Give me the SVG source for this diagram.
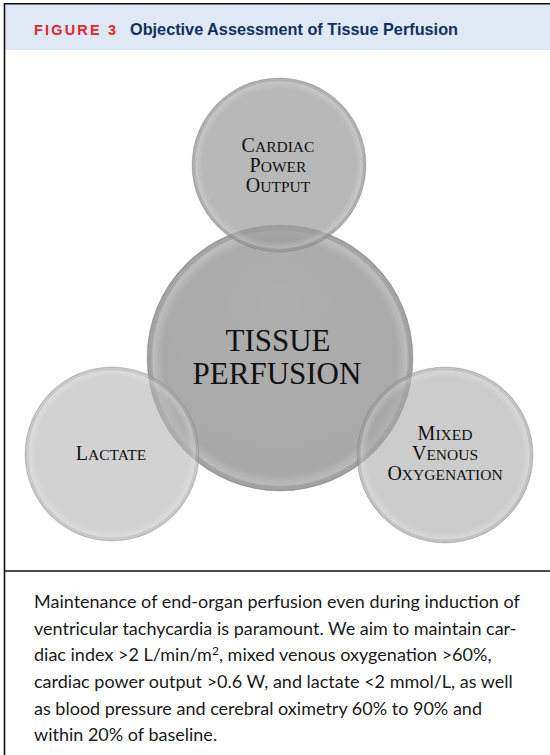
<svg xmlns="http://www.w3.org/2000/svg" width="550" height="755" viewBox="0 0 550 755">
<defs>
<radialGradient id="rim" cx="0.5" cy="0.5" r="0.5">
<stop offset="0" stop-color="#fff" stop-opacity="0"/>
<stop offset="0.88" stop-color="#fff" stop-opacity="0"/>
<stop offset="0.955" stop-color="#fff" stop-opacity="0.22"/>
<stop offset="0.985" stop-color="#000" stop-opacity="0.03"/>
<stop offset="1" stop-color="#000" stop-opacity="0.16"/>
</radialGradient>
<radialGradient id="shine" cx="0.5" cy="0.3" r="0.6">
<stop offset="0" stop-color="#fff" stop-opacity="0.06"/>
<stop offset="1" stop-color="#fff" stop-opacity="0"/>
</radialGradient>
</defs>
<style>
.rim{fill:url(#rim);stroke:#8e8e8e;stroke-width:0.7;stroke-opacity:0.45}
.lbl{font-family:"Liberation Serif","Times New Roman",serif;fill:#111;text-anchor:middle}
.sm{font-size:15.5px}
.cap{font-size:20px}
.body{font-family:Lato,"Noto Sans",sans-serif;font-size:18px;fill:#1a1a1a}
</style>
<rect x="0" y="0" width="550" height="755" fill="#fff"/>
<rect x="4" y="4" width="546" height="46" fill="#dfe9f5"/>
<text x="34" y="35" font-family="'Liberation Sans',Arial,sans-serif" font-weight="bold" font-size="14.5" fill="#e3262e" textLength="82" lengthAdjust="spacing">FIGURE 3</text>
<text x="130" y="35" font-family="'Liberation Sans',Arial,sans-serif" font-weight="bold" font-size="16.5" fill="#12305e" textLength="328" lengthAdjust="spacingAndGlyphs">Objective Assessment of Tissue Perfusion</text>
<path d="M4.5,755 V3.8 H550 M4,571 H550" fill="none" stroke="#111" stroke-width="1.6"/>

<g id="tissue-perfusion">
<circle cx="280" cy="358" r="133" fill="#a9a9a9"/>
<circle cx="280" cy="358" r="133" fill="url(#shine)"/>
<circle cx="280" cy="358" r="133" class="rim"/>
</g>
<g id="cardiac-power-output">
<circle cx="279" cy="165" r="87" fill="#9b9b9b" fill-opacity="0.71"/>
<circle cx="279" cy="165" r="87" class="rim"/>
</g>
<g id="lactate">
<circle cx="112" cy="454" r="87" fill="#b4b4b4" fill-opacity="0.6"/>
<circle cx="112" cy="454" r="87" class="rim"/>
</g>
<g id="mixed-venous-oxygenation">
<circle cx="445" cy="455" r="88" fill="#a7a7a7" fill-opacity="0.58"/>
<circle cx="445" cy="455" r="88" class="rim"/>
</g>
<g id="connectors"/>
<g id="labels">
<text class="lbl" x="278" y="152"><tspan class="cap">C</tspan><tspan class="sm">ARDIAC</tspan></text>
<text class="lbl" x="278" y="172"><tspan class="cap">P</tspan><tspan class="sm">OWER</tspan></text>
<text class="lbl" x="278" y="192"><tspan class="cap">O</tspan><tspan class="sm">UTPUT</tspan></text>
<text class="lbl" x="278" y="351" font-size="31">TISSUE</text>
<text class="lbl" x="277" y="384" font-size="31">PERFUSION</text>
<text class="lbl" x="111" y="460"><tspan class="cap">L</tspan><tspan class="sm">ACTATE</tspan></text>
<text class="lbl" x="445" y="440"><tspan class="cap">M</tspan><tspan class="sm">IXED</tspan></text>
<text class="lbl" x="445" y="460"><tspan class="cap">V</tspan><tspan class="sm">ENOUS</tspan></text>
<text class="lbl" x="445" y="480"><tspan class="cap">O</tspan><tspan class="sm">XYGENATION</tspan></text>
</g>
<g id="caption" class="body">
<text x="34" y="608">Maintenance of end-organ perfusion even during induction of</text>
<text x="34" y="635">ventricular tachycardia is paramount. We aim to maintain car-</text>
<text x="34" y="661">diac index &gt;2 L/min/m<tspan dy="-6" font-size="12">2</tspan><tspan dy="6">, mixed venous oxygenation &gt;60%,</tspan></text>
<text x="34" y="688">cardiac power output &gt;0.6 W, and lactate &lt;2 mmol/L, as well</text>
<text x="34" y="715">as blood pressure and cerebral oximetry 60% to 90% and</text>
<text x="34" y="741">within 20% of baseline.</text>
</g>
</svg>
